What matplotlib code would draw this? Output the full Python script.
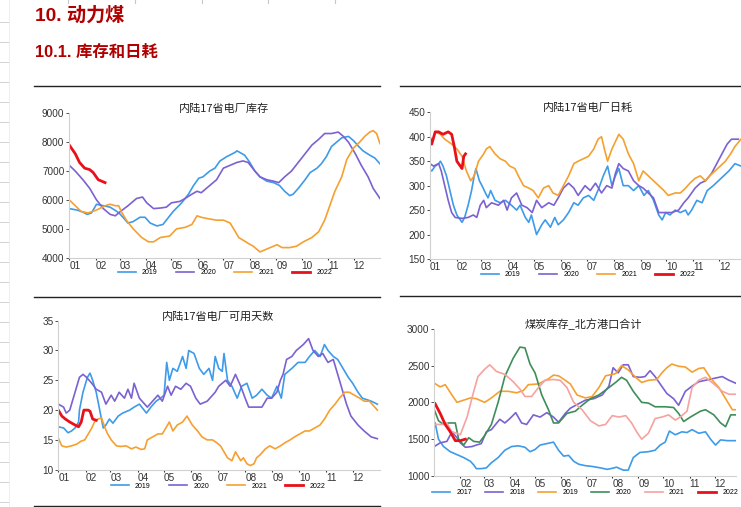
import matplotlib
matplotlib.use("Agg")
import matplotlib.pyplot as plt
from matplotlib.lines import Line2D

plt.rcParams['font.family'] = ['Liberation Sans', 'Noto Sans CJK SC', 'DejaVu Sans']

# ---------------- common ----------------
month_start = [0, 31, 59, 90, 120, 151, 181, 212, 243, 273, 304, 334]
month_labels = ['01', '02', '03', '04', '05', '06', '07', '08', '09', '10', '11', '12']

C19 = '#3d9be9'
C20 = '#7b61d1'
C21 = '#f5a030'
C22 = '#e8111b'
C17 = '#3d9be9'
C18 = '#7b61d1'
CG = '#3e8e5a'
CP = '#f4a3a0'

# ---------------- chart 1: 内陆17省电厂库存 ----------------
inv_d19 = [0,9,16,21,26,32,40,48,56,60,69,75,83,89,95,103,110,114,122,132,140,146,152,157,165,171,177,185,195,197,206,212,218,224,232,240,247,253,259,263,269,277,283,291,296,302,308,314,320,328,334,340,345,353,359,365]
inv_v19 = [5700,5650,5580,5500,5550,5850,5800,5750,5600,5500,5200,5250,5400,5400,5200,5100,5150,5300,5600,5900,6200,6500,6750,6800,7000,7100,7350,7500,7650,7700,7550,7300,7000,6800,6650,6600,6500,6300,6150,6200,6400,6700,6950,7100,7250,7500,7850,8000,8150,8200,8050,7850,7700,7550,7450,7250]
inv_d20 = [0,7,16,24,32,40,48,54,60,69,79,86,91,99,107,114,120,130,136,144,150,155,163,173,181,189,197,204,210,218,224,232,240,246,253,261,269,277,285,293,300,308,316,322,328,336,343,351,357,365]
inv_v20 = [7200,7000,6700,6400,6000,5700,5500,5450,5600,5800,6050,6100,5900,5700,5720,5750,5900,5950,6050,6200,6300,6250,6450,6700,7100,7200,7300,7350,7300,7000,6800,6700,6650,6600,6800,7000,7300,7600,7900,8100,8300,8300,8350,8200,8000,7600,7200,6800,6400,6050]
inv_d21 = [0,7,14,22,32,42,48,54,58,61,67,75,85,93,99,107,118,126,136,144,150,155,163,173,181,189,195,199,210,216,224,232,240,244,250,259,267,275,285,293,300,306,312,320,326,334,341,347,353,357,361,365]
inv_v21 = [6000,5800,5600,5550,5650,5800,5850,5800,5800,5600,5300,5000,4700,4550,4550,4700,4750,5000,5050,5150,5450,5400,5350,5300,5300,5200,4900,4700,4500,4400,4200,4300,4400,4450,4350,4350,4400,4550,4700,4900,5300,5800,6300,6800,7400,7800,8000,8200,8350,8400,8300,7950]
inv_d22 = [0,7,12,18,24,28,34,42]
inv_v22 = [7900,7600,7300,7100,7050,6950,6700,6600]

# ---------------- chart 2: 内陆17省电厂日耗 ----------------
use_d19 = [0,2,6,10,12,15,19,23,27,31,35,37,40,44,48,51,53,57,60,64,67,70,75,81,87,94,100,104,110,114,117,123,129,133,139,144,148,154,160,166,171,177,183,189,195,200,205,210,214,218,223,229,235,241,247,252,258,264,268,272,277,283,289,295,298,302,308,314,320,327,333,339,345,352,359]
use_v19 = [333,330,340,345,350,340,320,290,260,240,230,225,235,260,290,320,335,310,300,285,275,290,270,265,270,260,250,260,235,225,240,200,220,230,215,235,220,230,245,265,260,275,280,270,295,320,340,300,320,335,300,300,290,300,280,290,270,240,230,245,240,250,245,250,240,250,270,265,290,300,310,320,330,345,340]
use_d20 = [0,4,10,13,17,21,25,29,37,44,50,54,58,62,65,71,79,85,89,94,100,106,112,118,123,129,137,143,148,154,160,166,171,179,185,191,198,204,210,214,218,223,229,235,241,246,252,258,264,271,279,287,293,298,306,312,318,325,331,337,343,348,356]
use_v20 = [345,340,345,330,300,270,245,235,233,235,240,235,260,270,255,265,260,270,250,275,285,260,255,245,270,255,265,260,275,295,305,295,280,300,290,305,285,300,295,325,345,335,330,310,300,295,285,275,245,245,245,250,265,275,295,305,310,325,345,365,385,395,395]
use_d21 = [6,12,17,25,31,37,42,47,51,56,62,65,69,75,81,87,92,98,102,108,114,119,125,131,137,142,148,154,160,166,171,177,183,189,194,198,202,205,210,218,223,229,235,241,246,252,258,264,270,275,283,289,295,300,306,312,318,323,329,335,341,347,352,359]
use_v21 = [410,405,395,385,375,360,330,310,320,350,365,375,380,365,355,350,340,335,320,300,295,290,275,295,300,285,280,300,320,345,350,355,360,375,395,400,370,350,375,405,395,365,345,310,330,320,310,300,290,280,285,285,295,305,315,320,310,320,330,340,350,365,380,395]
use_d22 = [0,2,6,10,15,21,25,28,31,35,37,39,41]
use_v22 = [397,385,410,410,405,410,405,380,350,340,335,360,365]

# ---------------- chart 3: 内陆17省电厂可用天数 ----------------
day_d19 = [0,6,11,15,19,23,24,28,33,36,39,43,47,51,54,58,62,68,73,81,86,92,100,105,111,116,120,123,126,130,135,141,145,148,154,160,165,171,175,178,182,186,188,192,197,203,208,214,220,225,231,237,242,248,253,257,265,272,280,285,291,297,302,306,312,317,323,329,334,340,345,355,362]
day_v19 = [17.2,17,16.2,16.5,17,18,20,23,25.5,26.2,25,23,20,17,17.5,18.5,17.8,19,19.5,20,20.5,21,19.5,20.5,21.5,22,22.5,28,25,27,26.5,29,27,30,29.5,27,26,27,25,29,27,26.5,29.5,25,24,22,24,24.5,22,22.5,23.5,22.5,22,24,22,26,27,28,28,29,30,29,31,30,29,28.5,27,25.5,24.5,23,22,21.5,21]
day_d20 = [0,6,9,13,17,21,24,28,32,38,43,49,54,60,64,69,75,79,83,86,92,98,101,107,113,118,124,128,133,139,145,150,156,161,169,175,178,182,190,195,201,207,212,216,223,231,237,242,248,252,255,259,265,270,278,284,289,295,300,306,312,315,321,327,332,340,347,355,362]
day_v20 = [21,20.5,19.5,20,22,24,25.5,26,25.5,24.5,23.5,23,21,22.5,21.5,23,22,23.5,22,24.5,22,21,20.5,21.5,22.5,21.5,24,22.5,24,23.5,24.5,24,22,21,21.5,22.5,23,24,25,24,26,24,22,20.5,20.5,20.5,22,22,23,25,26,28.5,29,30,31,32,30,29,29.5,28,28.5,27,24,21,19,17.5,16.5,15.5,15.2]
day_d21 = [0,4,9,15,21,26,30,34,38,41,45,49,53,56,60,66,71,77,83,88,94,98,101,107,113,118,122,126,130,135,141,146,152,158,163,169,175,180,184,188,192,197,201,207,210,214,218,222,225,229,235,240,246,252,257,263,268,274,280,285,291,297,302,308,314,319,325,330,336,342,347,353,359,362]
day_v21 = [15.3,14,13.8,14,14.3,14.8,15,16,17,18,18.5,18.7,17,16,15,14,13.9,14,13.5,13.8,13.4,13.5,15,15.5,16,16,17,18,16.5,17.5,18,19,17.5,16.5,15.5,15,15,14.5,14,13,12,11.5,13,11.5,12,11,10.7,11,12,12.5,13.5,14,13.5,14,14.5,15,15.5,16,16.5,16.5,17,17.5,18.5,20,21,22,23,23,22.5,22,21.5,21.5,20.5,20]
day_d22 = [0,4,8,13,19,23,26,29,34,36,39,43]
day_v22 = [20,19,18.5,18,17.5,17.2,18,20,20,19.8,18.5,18.3]

# ---------------- chart 4: 煤炭库存_北方港口合计 ----------------
port_d17 = [1,5,11,19,27,35,43,47,50,56,62,68,76,84,92,100,108,114,120,126,134,142,148,154,160,166,172,180,188,198,206,214,217,225,231,237,245,255,263,269,275,280,287,295,301,307,315,323,329,335,341,349,359]
port_v17 = [1720,1500,1400,1330,1290,1250,1200,1150,1100,1100,1110,1180,1250,1350,1400,1410,1390,1330,1360,1420,1440,1460,1350,1270,1280,1200,1160,1140,1130,1110,1090,1110,1120,1080,1080,1250,1320,1330,1350,1420,1460,1610,1560,1600,1590,1630,1580,1600,1500,1420,1490,1480,1480]
port_d18 = [0,7,15,21,27,31,37,45,50,56,62,68,78,84,90,97,104,110,118,126,134,142,148,156,162,170,180,190,200,208,213,219,225,231,237,245,251,257,263,269,277,285,291,299,307,315,323,335,343,351,359]
port_v18 = [1400,1450,1470,1600,1520,1450,1390,1400,1420,1440,1600,1630,1770,1720,1780,1860,1720,1700,1830,1800,1860,1800,1730,1850,1920,1970,2030,2050,2100,2220,2470,2400,2510,2510,2350,2340,2350,2430,2350,2250,2120,2050,1960,2150,2220,2280,2300,2330,2350,2300,2260]
port_d19 = [0,7,13,21,27,35,43,50,60,68,78,88,98,106,112,124,136,142,148,156,162,170,180,188,196,204,216,223,231,239,247,255,265,271,277,283,291,299,307,315,321,329,339,347,355,359]
port_v19 = [2260,2210,2240,2100,2000,2030,2060,2050,2000,2060,2150,2150,2130,2160,2240,2250,2320,2370,2360,2300,2250,2100,2060,2080,2200,2360,2390,2500,2440,2350,2270,2300,2310,2400,2470,2520,2490,2480,2410,2460,2470,2330,2200,2050,1900,1900]
port_d20 = [0,5,11,17,25,29,35,41,47,54,60,68,76,84,94,102,108,114,120,128,136,142,148,158,168,176,186,196,208,217,223,229,237,247,255,263,275,285,291,297,305,317,323,333,341,347,353,359]
port_v20 = [1900,1750,1700,1720,1720,1500,1420,1520,1470,1460,1550,1700,2000,2350,2600,2750,2740,2520,2400,2100,1900,1720,1720,1850,1880,1960,2050,2100,2200,2280,2340,2300,2150,2000,1990,1940,1940,1930,1850,1740,1800,1880,1900,1830,1720,1670,1830,1830]
port_d21 = [1,9,15,21,27,31,39,47,52,60,66,74,84,94,102,108,116,124,132,142,150,158,166,176,186,196,204,212,220,228,235,241,247,255,263,271,279,287,293,301,307,315,323,333,343,351,359]
port_v21 = [1700,1700,1720,1600,1580,1560,1800,2150,2350,2450,2510,2420,2380,2280,2180,2080,2080,2200,2300,2310,2300,2200,2000,1900,1750,1680,1700,1820,1800,1820,1720,1600,1500,1580,1780,1800,1830,1760,1800,1880,2200,2300,2340,2250,2150,2110,2110]
port_d22 = [1,7,13,19,25,31,37]
port_v22 = [1980,1850,1700,1600,1480,1480,1500]

# ---------------- figure ----------------
W, H = 741, 507
fig = plt.figure(figsize=(W / 100, H / 100), dpi=100)
fig.patch.set_facecolor('white')


def fx(px):
    return px / W


def fy(py):
    return 1 - py / H


def rect(l, r, t, b):
    return [fx(l), fy(b), (r - l) / W, (b - t) / H]


# page ruler decorations
for y in range(22, H, 20):
    fig.add_artist(Line2D([0, fx(9)], [fy(y), fy(y)], color='#d2d2d2', lw=0.7))
fig.add_artist(Line2D([fx(9), fx(9)], [0, 1], color='#ececec', lw=0.6))
for x in [68, 135, 202, 268, 335]:
    fig.add_artist(Line2D([fx(x), fx(x)], [fy(0), fy(3)], color='#c8c8c8', lw=0.8))

# headings
fig.text(fx(35), fy(16), '10. 动力煤', color='#b00000', fontsize=13.8, fontweight='bold',
         ha='left', va='center', family=['Liberation Sans', 'Noto Sans CJK SC'])
fig.text(fx(35), fy(52), '10.1. 库存和日耗', color='#b00000', fontsize=11.8, fontweight='bold',
         ha='left', va='center', family=['Liberation Sans', 'Noto Sans CJK SC'])

# separator lines
for (x0, x1, y) in [(34, 380, 86), (400, 741, 86), (34, 380, 297), (400, 741, 296), (34, 380, 506)]:
    fig.add_artist(Line2D([fx(x0), fx(x1)], [fy(y), fy(y)], color='#222222', lw=1.0))


def style_axes(ax, xmax, yticks, show_first=True):
    ax.set_xlim(0, xmax)
    ax.set_ylim(yticks[0], yticks[-1])
    for s in ['top', 'right']:
        ax.spines[s].set_visible(False)
    for s in ['left', 'bottom']:
        ax.spines[s].set_color('#d0d0d0')
        ax.spines[s].set_linewidth(0.8)
    ax.set_yticks(yticks)
    ax.set_yticklabels([str(v) for v in yticks])
    if show_first:
        ax.set_xticks(month_start)
        ax.set_xticklabels(month_labels)
    else:
        ax.set_xticks(month_start[1:])
        ax.set_xticklabels(month_labels[1:])
    for lab in ax.get_xticklabels():
        lab.set_horizontalalignment('left')
    ax.tick_params(axis='both', labelsize=7.2, colors='#333333', length=2, width=0.6,
                   pad=1.5)
    ax.tick_params(axis='x', direction='out', length=1.5, width=0.8, pad=0.8)
    ax.patch.set_alpha(0)


def add_legend(ax, handles, labels, cx, cy):
    fig.legend(handles, labels, loc='center', bbox_to_anchor=(fx(cx), fy(cy)), ncol=len(labels),
               frameon=False, fontsize=5, handlelength=2.6, columnspacing=2.6, handletextpad=0.9,
               borderaxespad=0)


def title(text, cx, cy):
    fig.text(fx(cx), fy(cy), text, ha='center', va='center', fontsize=8, color='#222222',
             family=['Noto Sans CJK SC', 'DejaVu Sans'])


lw = 1.2
lw22 = 2.0

# chart 1
ax1 = fig.add_axes(rect(69.3, 380, 113.3, 257.7))
h = [ax1.plot(inv_d19, inv_v19, color=C19, lw=lw)[0],
     ax1.plot(inv_d20, inv_v20, color=C20, lw=lw)[0],
     ax1.plot(inv_d21, inv_v21, color=C21, lw=lw)[0],
     ax1.plot(inv_d22, inv_v22, color=C22, lw=lw22)[0]]
style_axes(ax1, 365, [4000, 5000, 6000, 7000, 8000, 9000])
title('内陆17省电厂库存', 224, 109)
add_legend(ax1, h, ['2019', '2020', '2021', '2022'], 225, 273)

# chart 2
ax2 = fig.add_axes(rect(430, 741, 112.3, 259))
h = [ax2.plot(use_d19, use_v19, color=C19, lw=lw)[0],
     ax2.plot(use_d20, use_v20, color=C20, lw=lw)[0],
     ax2.plot(use_d21, use_v21, color=C21, lw=lw)[0],
     ax2.plot(use_d22, use_v22, color=C22, lw=lw22)[0]]
style_axes(ax2, 359, [150, 200, 250, 300, 350, 400, 450])
title('内陆17省电厂日耗', 588, 108)
add_legend(ax2, h, ['2019', '2020', '2021', '2022'], 588, 274.5)

# chart 3
ax3 = fig.add_axes(rect(58.3, 380, 320.7, 469.7))
h = [ax3.plot(day_d19, day_v19, color=C19, lw=lw)[0],
     ax3.plot(day_d20, day_v20, color=C20, lw=lw)[0],
     ax3.plot(day_d21, day_v21, color=C21, lw=lw)[0],
     ax3.plot(day_d22, day_v22, color=C22, lw=lw22)[0]]
style_axes(ax3, 365, [10, 15, 20, 25, 30, 35])
title('内陆17省电厂可用天数', 218, 317)
add_legend(ax3, h, ['2019', '2020', '2021', '2022'], 218, 486)

# chart 4
ax4 = fig.add_axes(rect(434.3, 735.7, 328.7, 476))
h = [ax4.plot(port_d17, port_v17, color=C17, lw=lw)[0],
     ax4.plot(port_d18, port_v18, color=C18, lw=lw)[0],
     ax4.plot(port_d19, port_v19, color=C21, lw=lw)[0],
     ax4.plot(port_d20, port_v20, color=CG, lw=lw)[0],
     ax4.plot(port_d21, port_v21, color=CP, lw=lw)[0],
     ax4.plot(port_d22, port_v22, color=C22, lw=lw22)[0]]
style_axes(ax4, 359, [1000, 1500, 2000, 2500, 3000], show_first=False)
title('煤炭库存_北方港口合计', 583, 324)
fig.legend(h, ['2017', '2018', '2019', '2020', '2021', '2022'], loc='center',
           bbox_to_anchor=(fx(585), fy(493)), ncol=6, frameon=False, fontsize=5,
           handlelength=2.6, columnspacing=1.9, handletextpad=0.9, borderaxespad=0)

fig.savefig('out.png', dpi=100, facecolor='white')
